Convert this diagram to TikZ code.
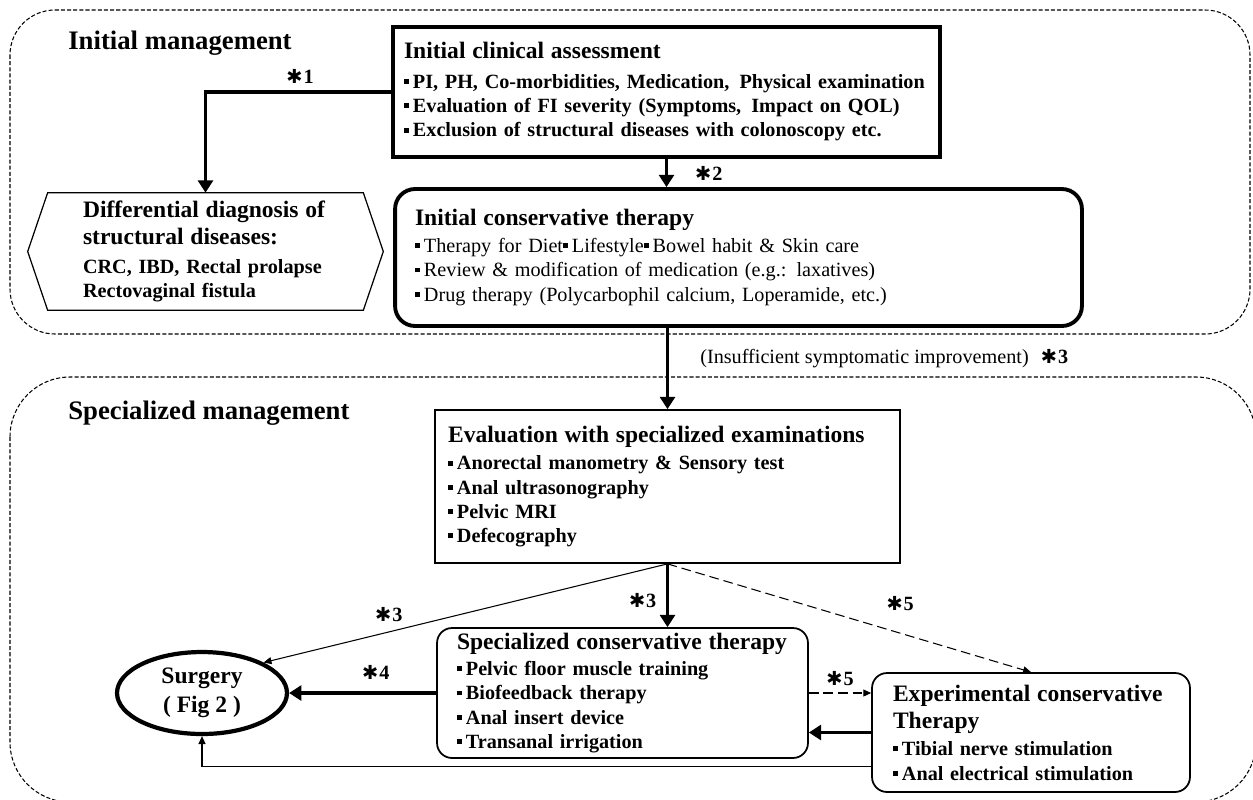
\documentclass[tikz,border=0pt]{standalone}
\usepackage{fontspec}
\setmainfont{Liberation Serif}
\newfontfamily\symf{DejaVu Sans}
\usetikzlibrary{arrows.meta,shapes.geometric,calc}
\newcommand{\sqb}{\rule[0.22em]{0.24em}{0.24em}\hspace{0.2em}}
\newcommand{\ttl}[1]{{\fontsize{13.4}{16}\selectfont\bfseries #1}}
\newcommand{\stn}[1]{{\symf\fontsize{11}{11}\selectfont\bfseries ✱}\hspace{0.05em}#1}
\begin{document}
\begin{tikzpicture}[x=0.02cm,y=-0.02cm,
  grp/.style={line width=0.6pt,dash pattern=on 2.3pt off 1.2pt},
  hd/.style={font=\fontsize{15.2}{18}\selectfont\bfseries,anchor=west,inner sep=0pt},
  box/.style={draw,align=left,inner ysep=0pt,font=\fontsize{11.5}{13.8}\selectfont\bfseries},
  lbl/.style={font=\fontsize{11.5}{13.6}\selectfont\bfseries,inner sep=1pt},
  thk/.style={line width=2.2pt,-{Triangle[length=7pt,width=8.5pt]}},
  thn/.style={line width=0.6pt,-{Triangle[length=4.5pt,width=4pt]}},
  dsh/.style={thn,dash pattern=on 5.5pt off 2.8pt}]
\useasboundingbox (0,0) rectangle (1253,799); \clip (0,0) rectangle (1253,799);
\draw[grp,rounded corners=0.9cm] (10,10) rectangle (1250,334);
\draw[grp,rounded corners=1.2cm] (10,377) rectangle (1256,802);
\node[hd] (ini) at (68,43) {Initial management};
\node[hd] (spm) at (68,413) {Specialized management};
\node[box,line width=2.5pt,text width=10.5cm,inner xsep=0.22cm,minimum height=2.6cm] (assess) at (666.5,92)
  {\ttl{Initial clinical assessment}\\[3pt]
   \sqb PI, PH, Co-morbidities, Medication,\enspace Physical examination\\
   \sqb Evaluation of FI severity (Symptoms,\enspace Impact on QOL)\\
   \sqb Exclusion of structural diseases with colonoscopy etc.};
\node[box,font=\fontsize{11.5}{13.8}\selectfont,line width=2.2pt,rounded corners=0.4cm,text width=12.94cm,inner xsep=0.4cm,minimum height=2.74cm] (initcons) at (738.5,257.5)
  {\ttl{Initial conservative therapy}\\[1.5pt]
   \sqb Therapy for Diet\sqb Lifestyle\sqb Bowel habit \& Skin care\\
   \sqb Review \& modification of medication (e.g.: laxatives)\\
   \sqb Drug therapy (Polycarbophil calcium, Loperamide, etc.)};
\node[align=left,inner sep=0pt,text width=4.9cm,minimum width=7.1cm,minimum height=2.34cm,font=\fontsize{11.5}{13.6}\selectfont\bfseries] (diff) at (205.5,251.5)
  {\ttl{Differential diagnosis of}\\[1.8pt] \ttl{structural diseases:}\\[2.8pt] CRC, IBD, Rectal prolapse\\ Rectovaginal fistula};
\draw[line width=0.7pt] (diff.west) -- ($(diff.north west)+(20,0)$) -- ($(diff.north east)+(-20,0)$) -- (diff.east)
  -- ($(diff.south east)+(-20,0)$) -- ($(diff.south west)+(20,0)$) -- cycle;
\node[box,line width=1pt,text width=8.78cm,inner xsep=0.26cm,minimum height=3.06cm] (eval) at (667.5,486.5)
  {\ttl{Evaluation with specialized examinations}\\[2pt]
   \sqb Anorectal manometry \& Sensory test\\ \sqb Anal ultrasonography\\ \sqb Pelvic MRI\\ \sqb Defecography};
\node[box,line width=1pt,rounded corners=0.3cm,text width=6.62cm,inner xsep=0.4cm,minimum height=2.6cm] (spec) at (622.5,693)
  {\ttl{Specialized conservative therapy}\\[1pt]
   \sqb Pelvic floor muscle training\\ \sqb Biofeedback therapy\\ \sqb Anal insert device\\ \sqb Transanal irrigation};
\node[box,line width=1pt,rounded corners=0.3cm,text width=5.52cm,inner xsep=0.42cm,minimum height=2.38cm] (expt) at (1031,732.5)
  {\ttl{Experimental conservative}\\[2pt] \ttl{Therapy}\\[1.5pt]
   \sqb Tibial nerve stimulation\\ \sqb Anal electrical stimulation};
\node[ellipse,draw,line width=2.4pt,inner sep=0pt,minimum width=3.4cm,minimum height=1.64cm,align=center] (surg) at (202,693)
  {\ttl{Surgery}\\[3pt] \ttl{( Fig 2 )}};
\draw[thk] (assess.west) -| node[lbl,pos=0.245,above=0.1cm] {\stn{1}} (diff.north);
\draw[thk] (assess.south) -- node[lbl,right=0.5cm] {\stn{2}} (assess.south |- initcons.north);
\draw[thk] (eval.north |- initcons.south) -- node[pos=0.38,anchor=west,xshift=0.5cm,font=\fontsize{11.5}{13.6}\selectfont]
  {(Insufficient symptomatic improvement)\hspace{0.6em}\textbf{\stn{3}}} (eval.north);
\draw[thk] (eval.south) -- node[lbl,pos=0.58,left=0.15cm] {\stn{3}} (eval.south |- spec.north);
\draw[thn] (eval.south) -- node[lbl,pos=0.69,above=0.15cm] {\stn{3}} (surg.north east);
\draw[dsh] (eval.south) -- node[lbl,pos=0.64,above=0.4cm] {\stn{5}} (expt.north);
\draw[thk] (spec.west) -- node[lbl,pos=0.41,above=0.2cm] {\stn{4}} (surg.east);
\draw[dsh] (spec.east) -- node[lbl,above=0.1cm] {\stn{5}} (spec.east -| expt.west);
\draw[thk] (expt.west) -- (expt.west -| spec.east);
\draw[thn] ([yshift=-0.68cm]expt.west) -| (surg.south);
\end{tikzpicture}
\end{document}
